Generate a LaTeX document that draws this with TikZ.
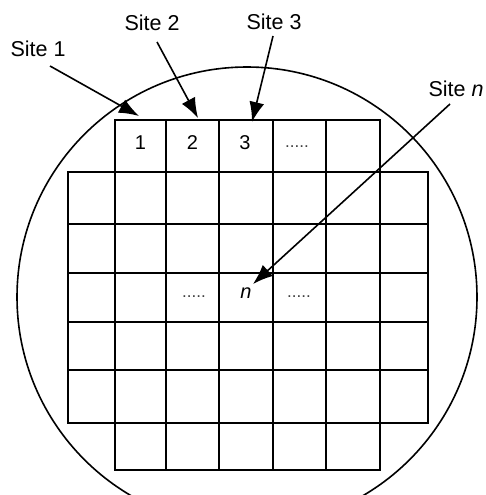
\documentclass[tikz,border=0pt]{standalone}
\usepackage{fontspec}
\setmainfont{Liberation Sans}
\usetikzlibrary{arrows.meta}
\begin{document}
\begin{tikzpicture}[x=1pt,y=-1pt,
  gridline/.style={line width=2pt,line cap=rect},
  wafer/.style={line width=1.6pt},
  pointer/.style={line width=1.6pt,-{Latex[length=20pt,width=15pt]}},
  sitelabel/.style={inner sep=0pt,font=\fontsize{21.5}{24}\selectfont},
  celltext/.style={inner sep=0pt,font=\fontsize{20}{22}\selectfont},
  dotstext/.style={inner sep=0pt,text=black!75,font=\fontsize{17}{20}\selectfont}]
\useasboundingbox (0,0) rectangle (485,495);
\clip (0,0) rectangle (485,495);
% wafer
\draw[wafer] (247,297) circle[radius=230];
% top row
\draw[gridline] (115,120) rectangle (380,172);
\foreach \x in {166,219,273,326} \draw[gridline] (\x,120) -- (\x,172);
% main grid
\draw[gridline] (68,172) rectangle (428,423);
\foreach \y in {224,273,322,370} \draw[gridline] (68,\y) -- (428,\y);
\foreach \x in {115,166,219,273,326,380} \draw[gridline] (\x,172) -- (\x,423);
% bottom row
\draw[gridline] (115,423) rectangle (380,470);
\foreach \x in {166,219,273,326} \draw[gridline] (\x,423) -- (\x,470);
% cell texts
\node[celltext] (c1) at (140.5,143) {1};
\node[celltext] (c2) at (192.5,143) {2};
\node[celltext] (c3) at (245,143) {3};
\node[dotstext] (cd) at (297,147) {.....};
\node[dotstext] (md1) at (194,297) {.....};
\node[celltext] (cn) at (246,293) {\itshape n};
\node[dotstext] (md2) at (299,297) {.....};
% labels
\node[sitelabel] (site1) at (38,49) {Site 1};
\node[sitelabel] (site2) at (152,23) {Site 2};
\node[sitelabel] (site3) at (274,22) {Site 3};
\node[sitelabel] (siten) at (456,89) {Site \textit{n}};
% arrow ends
\coordinate (s1a) at (50,66);   \coordinate (s1b) at (139,116);
\coordinate (s2a) at (157,42);  \coordinate (s2b) at (198,118);
\coordinate (s3a) at (273,36);  \coordinate (s3b) at (252,122);
\coordinate (sna) at (450,104); \coordinate (snb) at (253,284);
\draw[pointer] (s1a) -- (s1b);
\draw[pointer] (s2a) -- (s2b);
\draw[pointer] (s3a) -- (s3b);
\draw[pointer] (sna) -- (snb);
\end{tikzpicture}
\end{document}
